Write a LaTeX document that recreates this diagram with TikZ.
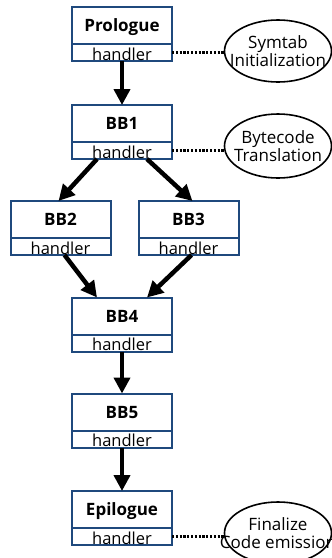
\documentclass[tikz,border=0pt]{standalone}
\usepackage{fontspec}
\setmainfont{Open Sans}
\usepackage{xcolor}
\usepackage{tikz}
\usetikzlibrary{shapes.geometric, arrows.meta, positioning, calc}
\definecolor{bbblue}{RGB}{31,73,125}
\tikzset{
  bbtitle/.style={rectangle, draw=bbblue, line width=2pt, fill=white, outer sep=0pt,
                  minimum width=100pt, minimum height=37pt, inner sep=0pt,
                  text height=12pt, text depth=0pt, font=\fontsize{17}{20}\selectfont\bfseries},
  bbhandler/.style={rectangle, draw=bbblue, line width=2pt, fill=white, outer sep=0pt,
                  minimum width=100pt, minimum height=17pt, inner sep=0pt,
                  text height=16pt, text depth=1pt, font=\fontsize{16.5}{18}\selectfont},
  task/.style={ellipse, draw=black, line width=1.6pt, fill=white, outer sep=0pt,
               minimum width=107pt, minimum height=62pt, inner sep=0pt},
  tasktext/.style={align=center, inner sep=0pt, font=\fontsize{17}{17.6}\selectfont},
  flow/.style={-{Triangle[length=16pt,width=16pt]}, line width=4.5pt},
  link/.style={line width=2.6pt, dash pattern=on 2.2pt off 1.6pt},
}

\begin{document}
\begin{tikzpicture}[x=1pt, y=-1pt]
\useasboundingbox (0,0) rectangle (332,558);
% Basic blocks
\node[bbtitle] (pro) at (122,25.5) {Prologue};
\node[bbhandler, below=0pt of pro] (proh) {handler};
\node[bbtitle] (bb1) at (122,123.5) {BB1};
\node[bbhandler, below=0pt of bb1] (bb1h) {handler};
\node[bbtitle] (bb2) at (60.5,219.5) {BB2};
\node[bbhandler, below=0pt of bb2] (bb2h) {handler};
\node[bbtitle] (bb3) at (188.5,219.5) {BB3};
\node[bbhandler, below=0pt of bb3] (bb3h) {handler};
\node[bbtitle] (bb4) at (122,316) {BB4};
\node[bbhandler, below=0pt of bb4] (bb4h) {handler};
\node[bbtitle] (bb5) at (122,412) {BB5};
\node[bbhandler, below=0pt of bb5] (bb5h) {handler};
\node[bbtitle] (epi) at (122,509.5) {Epilogue};
\node[bbhandler, below=0pt of epi] (epih) {handler};

% Control flow
\draw[flow] (proh.south) -- (bb1.north);
\draw[flow] ($(bb1h.south)!0.5!(bb1h.south west)$) -- ($(bb2.north)+(-2,0)$);
\draw[flow] ($(bb1h.south)!0.5!(bb1h.south east)$) -- ($(bb3.north)+(4,0)$);
\draw[flow] ($(bb2h.south)+(4,0)$) -- ($(bb4.north west)!0.25!(bb4.north east)$);
\draw[flow] ($(bb3h.south)+(3,0)$) -- ($(bb4.north west)!0.75!(bb4.north east)$);
\draw[flow] (bb4h.south) -- (bb5.north);
\draw[flow] (bb5h.south) -- (epi.north);

% Handler tasks
\node[task] (symtab) at (278,51) {};
\node[tasktext] at (symtab) {Symtab\\Initialization};
\node[task, minimum height=64pt] (bytecode) at (278,146) {};
\node[tasktext] at (bytecode) {Bytecode\\Translation};
\node[task] (final) at (278,533) {};
\node[tasktext] at (final) {Finalize\\Code emission};
\draw[link] (proh.east) -- (proh.east -| symtab.west);
\draw[link] (bb1h.east) -- (bb1h.east -| bytecode.west);
\draw[link] (epih.east) -- (epih.east -| final.west);
\end{tikzpicture}
\end{document}
